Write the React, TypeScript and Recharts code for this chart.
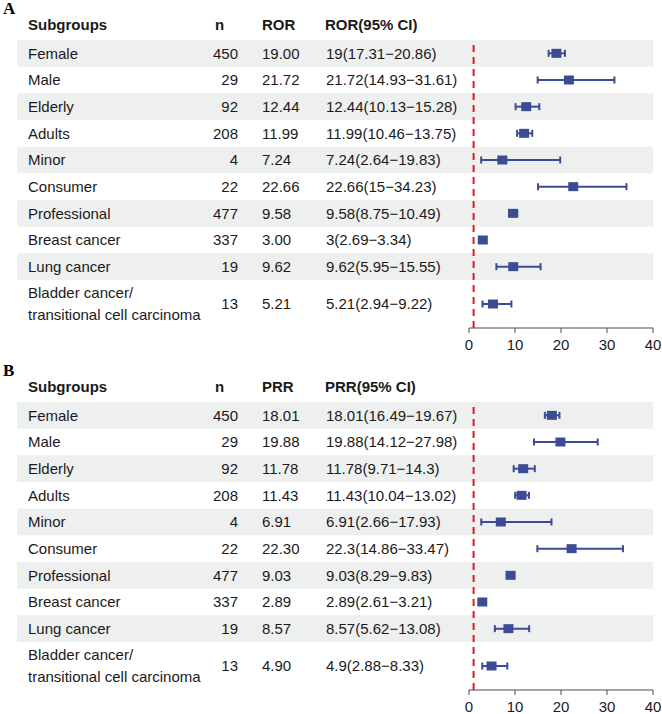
import React from 'react';
import {
  ComposedChart,
  Scatter,
  ErrorBar,
  XAxis,
  YAxis,
  ReferenceLine,
  ReferenceArea,
} from 'recharts';

const subgroups = [
  'Female',
  'Male',
  'Elderly',
  'Adults',
  'Minor',
  'Consumer',
  'Professional',
  'Breast cancer',
  'Lung cancer',
  'Bladder cancer/\ntransitional cell carcinoma',
];
const counts = [450, 29, 92, 208, 4, 22, 477, 337, 19, 13];

const rorEst = [19.0, 21.72, 12.44, 11.99, 7.24, 22.66, 9.58, 3.0, 9.62, 5.21];
const rorLow = [17.31, 14.93, 10.13, 10.46, 2.64, 15, 8.75, 2.69, 5.95, 2.94];
const rorHigh = [20.86, 31.61, 15.28, 13.75, 19.83, 34.23, 10.49, 3.34, 15.55, 9.22];

const prrEst = [18.01, 19.88, 11.78, 11.43, 6.91, 22.3, 9.03, 2.89, 8.57, 4.9];
const prrLow = [16.49, 14.12, 9.71, 10.04, 2.66, 14.86, 8.29, 2.61, 5.62, 2.88];
const prrHigh = [19.67, 27.98, 14.3, 13.02, 17.93, 33.47, 9.83, 3.21, 13.08, 8.33];

const xTicks = [0, 10, 20, 30, 40];
const refValue = 1;

const FONT = '"Liberation Sans", Arial, sans-serif';
const TEXT = '#1a1a1a';
const BOX = '#3b4c95';
const BAND = '#eef0f0';

// two-line labels get a taller row
const spans = subgroups.map((s) => (s.includes('\n') ? 1.8 : 1));
const starts = spans.map((_, i) => spans.slice(0, i).reduce((a, b) => a + b, 0));
const centers = starts.map((s, i) => s + spans[i] / 2);
const total = spans.reduce((a, b) => a + b, 0);

const W = 662;
const H = 352;
const BAND_LEFT = 17;

const RowTick = (props: any) => {
  const { y, payload, metricEst, metricLow, metricHigh } = props;
  const i = centers.findIndex((c) => Math.abs(c - payload.value) < 1e-6);
  if (i < 0) return null;
  const lines = subgroups[i].split('\n');
  const ci = `${metricEst[i]}(${metricLow[i]}\u2212${metricHigh[i]})`;
  return (
    <g fontFamily={FONT} fontSize={15} fill={TEXT}>
      {lines.map((l, k) => (
        <text key={k} x={28} y={y + (k - (lines.length - 1) / 2) * 22} dy="0.36em">
          {l}
        </text>
      ))}
      <text x={238} y={y} dy="0.36em" textAnchor="end">
        {counts[i]}
      </text>
      <text x={262} y={y} dy="0.36em">
        {metricEst[i].toFixed(2)}
      </text>
      <text x={326} y={y} dy="0.36em">
        {ci}
      </text>
    </g>
  );
};

const Panel = ({ letter, metric, est, low, high, top }: any) => {
  const data = subgroups.map((s, i) => ({
    name: s,
    x: est[i],
    y: centers[i],
    err: [est[i] - low[i], high[i] - est[i]],
  }));

  return (
    <div style={{ position: 'absolute', left: 0, top, width: W, height: H }}>
      <svg
        width={W}
        height={40}
        style={{ position: 'absolute', left: 0, top: 0 }}
      >
        <text x={3} y={14} fontFamily='"Liberation Serif", "Times New Roman", serif' fontWeight="bold" fontSize={17} fill="#000">
          {letter}
        </text>
        <g fontFamily={FONT} fontWeight="bold" fontSize={15} fill={TEXT}>
          <text x={28} y={29.5}>Subgroups</text>
          <text x={215} y={29.5}>n</text>
          <text x={262} y={29.5}>{metric}</text>
          <text x={325} y={29.5}>{metric}(95% CI)</text>
        </g>
      </svg>
      <ComposedChart
        width={W}
        height={H}
        data={data}
        margin={{ top: 40, right: 9, left: 0, bottom: 0 }}
      >
        {starts.map((s, i) =>
          i % 2 === 0 ? (
            <ReferenceArea
              key={`band-${i}`}
              y1={s}
              y2={s + spans[i]}
              ifOverflow="visible"
              shape={(p: any) => (
                <rect
                  x={BAND_LEFT}
                  y={p.y}
                  width={p.x + p.width - BAND_LEFT}
                  height={p.height}
                  fill={BAND}
                />
              )}
            />
          ) : null
        )}
        <XAxis
          type="number"
          dataKey="x"
          domain={[0, 40]}
          ticks={xTicks}
          height={24}
          tickSize={5}
          tickMargin={6}
          stroke="#4d4d4d"
          tick={{ fill: TEXT, fontSize: 15, fontFamily: FONT }}
        />
        <YAxis
          type="number"
          dataKey="y"
          reversed
          domain={[0, total]}
          ticks={centers}
          interval={0}
          width={469}
          axisLine={false}
          tickLine={false}
          tick={(p: any) => (
            <RowTick {...p} metricEst={est} metricLow={low} metricHigh={high} />
          )}
        />
        <ReferenceLine
          x={refValue}
          stroke="#e31a1c"
          strokeWidth={2}
          strokeDasharray="7 5"
        />
        <Scatter
          dataKey="x"
          isAnimationActive={false}
          fill={BOX}
          shape={(p: any) => (
            <rect x={p.cx - 5} y={p.cy - 4.5} width={10} height={9} fill={BOX} />
          )}
        >
          <ErrorBar
            dataKey="err"
            direction="x"
            width={3.5}
            strokeWidth={2}
            stroke={BOX}
            isAnimationActive={false}
          />
        </Scatter>
      </ComposedChart>
    </div>
  );
};

export default function App() {
  return (
    <div style={{ position: 'absolute', left: 0, top: 0, width: 662, height: 714, background: '#fff' }}>
      <Panel letter="A" metric="ROR" est={rorEst} low={rorLow} high={rorHigh} top={0} />
      <Panel letter="B" metric="PRR" est={prrEst} low={prrLow} high={prrHigh} top={362} />
    </div>
  );
}
